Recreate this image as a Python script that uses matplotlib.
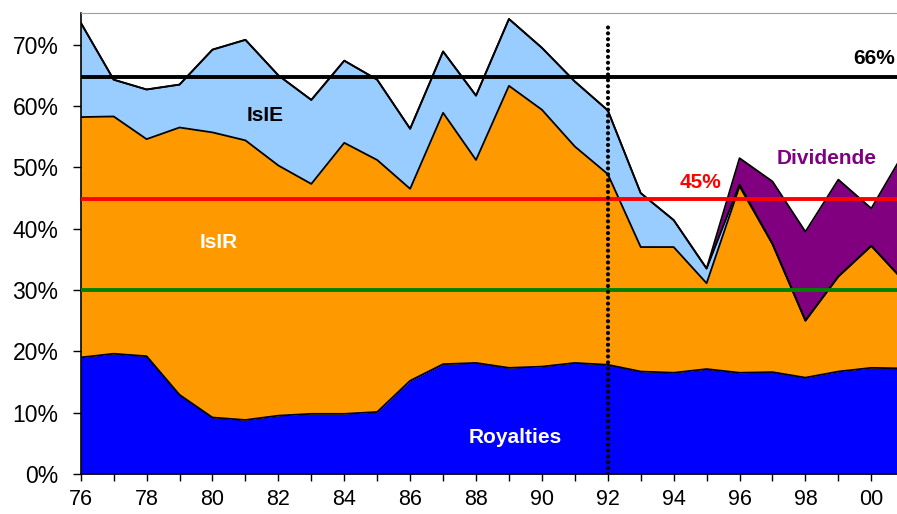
import matplotlib
matplotlib.use("Agg")
import matplotlib.pyplot as plt
import numpy as np

plt.rcParams['font.family'] = ['Liberation Sans', 'DejaVu Sans']

# shares in %, 1976 .. 2001
years = list(range(1976, 2002))
royalties = [19.0, 19.6, 19.2, 12.9, 9.2, 8.8, 9.5, 9.8, 9.8, 10.1, 15.2, 17.9, 18.1,
             17.3, 17.5, 18.1, 17.8, 16.7, 16.5, 17.1, 16.5, 16.6, 15.7, 16.7, 17.3, 17.2]
isir = [39.2, 38.7, 35.4, 43.6, 46.5, 45.6, 40.8, 37.5, 44.2, 41.1, 31.3, 41.0, 33.1,
        46.0, 41.9, 35.3, 31.1, 20.3, 20.5, 14.0, 30.4, 20.9, 9.3, 15.5, 19.9, 14.2]
isie = [15.4, 6.0, 8.1, 7.0, 13.5, 16.4, 14.7, 13.7, 13.4, 13.1, 9.8, 10.0, 10.5,
        10.9, 10.1, 10.6, 10.4, 8.8, 4.4, 2.4, 0.3, 0, 0, 0, 0, 0]
dividende = [0] * 20 + [4.3, 10.2, 14.5, 15.8, 6.1, 21.1]

ref_lines = [(64.8, 'black'), (44.8, '#FF0000'), (30.0, '#008000')]
split_year = 1992

x = np.array(years)
layers = [royalties, isir, isie, dividende]
colors = ['#0000FF', '#FF9900', '#99CCFF', '#800080']

fig = plt.figure(figsize=(8.97, 5.14), dpi=100)
ax = fig.add_axes([0.09, 0.078, 0.91, 0.897])

bottom = np.zeros(len(x))
for vals, c in zip(layers, colors):
    top = bottom + np.array(vals)
    ax.fill_between(x, bottom, top, color=c, lw=0, zorder=1)
    bottom = top
bottom = np.zeros(len(x))
for vals in layers:
    bottom = bottom + np.array(vals)
    ax.plot(x, bottom, color='black', lw=1.3, zorder=2)

for yv, c in ref_lines:
    ax.axhline(yv, color=c, lw=2.8, zorder=3)

# dotted split line
ax.axvline(split_year, ymax=0.98, color='black', lw=3.0, ls=(0, (0.01, 1.4)),
           dash_capstyle='round', zorder=4)

lab = dict(fontsize=15, fontweight='bold', ha='center', va='center', zorder=5)
ax.text(1981.6, 58.4, 'IsIE', color='black', **lab)
ax.text(1980.2, 37.7, 'IsIR', color='white', **lab)
ax.text(1989.2, 6.0, 'Royalties', color='white', **lab)
ax.text(1998.65, 51.5, 'Dividende', color='#800080', **lab)
ax.text(1994.8, 47.5, '45%', color='#FF0000', **lab)
ax.text(2000.1, 67.7, '66%', color='black', **lab)

ax.set_xlim(1976, 2000.78)
ax.set_ylim(0, 75.2)
ax.set_yticks(np.arange(0, 71, 10))
ax.set_yticklabels([f'{v}%' for v in range(0, 71, 10)], fontsize=16.5)
ax.set_xticks(np.arange(1976, 2001, 2))
ax.set_xticklabels([f'{y % 100:02d}' for y in range(1976, 2001, 2)], fontsize=15.5)
ax.set_xticks(np.arange(1976, 2001, 1), minor=True)
ax.tick_params(axis='x', which='both', length=5, width=1, pad=6)
ax.tick_params(axis='y', length=6, width=1, pad=10)

ax.spines['right'].set_visible(False)
ax.spines['top'].set_color('#A0A0A0')
ax.spines['left'].set_linewidth(1.2)
ax.spines['bottom'].set_linewidth(1.2)

fig.savefig('out.png', dpi=100)
